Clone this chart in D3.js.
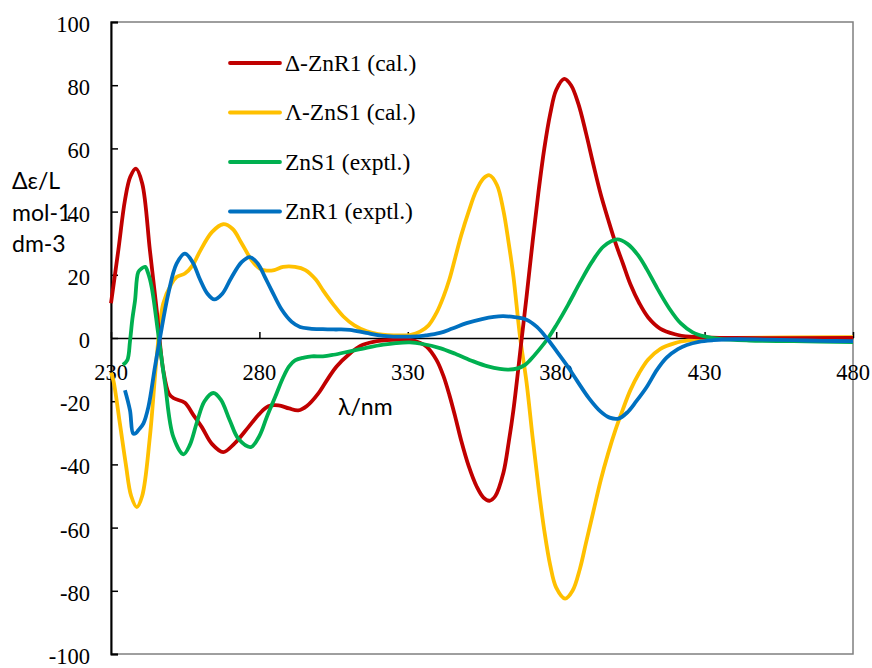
<!DOCTYPE html>
<html>
<head>
<meta charset="utf-8">
<script src="https://cdn.jsdelivr.net/npm/d3@7"></script>
<style>
    body { margin: 0; background: #fff; }
    .chart { width: 872px; height: 668px; }
</style>
</head>
<body>
<div class="chart" id="cd"></div>
<script>
// wavelength (nm) / delta epsilon pairs
var redNm = [230, 232.5, 234.7, 236.5, 238.4, 240.5, 243.1, 245.4, 247.6, 249.5, 251, 254.9, 257.5, 260.6, 264, 267.8, 271.5, 276.3, 280, 283, 286.4, 290, 293.1, 296, 299.8, 303, 306, 310.5, 314, 318.4, 325, 330.7, 334, 336.4, 339.7, 342, 344, 346, 348, 350.5, 353.2, 355.5, 357.5, 359.5, 362.2, 364, 365.6, 368.4, 370, 372, 374, 376, 378, 380, 382.7, 385, 387.5, 390, 392.5, 395, 397.5, 400, 402.5, 405, 408, 411, 415, 420, 425, 430, 440, 480];
var redVals = [11, 28, 43.6, 51, 53.6, 49, 27.8, 8.8, -10.2, -17.6, -19, -20.5, -24, -28.2, -33.5, -36.1, -33.5, -28.2, -24, -21.6, -21.3, -22.3, -22.9, -21.5, -17.6, -13, -9, -4.9, -2.5, -1.2, -0.6, -0.6, -1.5, -2.8, -7, -12, -18, -25, -32.5, -40.5, -47, -50.5, -51.5, -50, -42.7, -33, -22.7, 0, 13, 30, 46, 60, 71, 78.5, 82, 80, 74, 65, 55, 45.5, 37.5, 30, 23.5, 17, 11, 6.5, 3, 1.2, 0.4, 0.2, 0, 0];

var yellowNm = [230, 230.8, 233, 235, 236.8, 238.7, 240.5, 243.1, 245.4, 247.6, 250.4, 252.1, 254.9, 257.5, 260, 264, 267.8, 271, 274, 277.4, 280, 281.9, 285, 288, 292, 295.5, 299, 301.5, 305, 308.3, 312, 316.2, 320, 327.4, 331, 334.1, 337, 339.7, 342, 344, 346, 348, 350.5, 353, 355.5, 357.5, 360, 362.2, 364, 365.6, 367.8, 370, 372, 374, 376, 378, 380, 383, 385.5, 388, 390, 392.5, 395, 397.5, 400, 402.5, 405, 408, 411, 415, 420, 425, 430, 440, 480];
var yellowVals = [-11, -13.4, -27.1, -40, -50, -53.5, -50, -31.3, -6, 10.9, 17.2, 19.3, 20.4, 23, 27.5, 33.5, 36, 34.5, 30, 24.6, 22, 21.4, 21.5, 22.5, 22.5, 21.5, 18.5, 15, 10.5, 6.8, 4, 2.1, 1.2, 0.8, 1, 2, 4, 8, 13, 18.5, 25.5, 32.5, 40, 46.5, 50.5, 51.5, 48.5, 40.4, 30, 19.4, 0.5, -14, -31, -47, -61, -72, -79, -82.5, -80, -73, -65, -55, -45, -36.5, -29, -22.5, -16.5, -11, -6.8, -3.5, -1.6, -0.7, -0.3, 0, 0.3];

var greenNm = [234, 235.5, 236.4, 237.2, 238.1, 239.2, 240.3, 241.5, 242.5, 243.7, 245.9, 248.2, 251, 254.4, 256.5, 259, 261.5, 264.5, 267, 270, 273, 277.1, 280, 282.5, 285.3, 288, 290, 292, 295, 297.6, 301.4, 305, 310.5, 316, 321.7, 326, 330.7, 335, 340.8, 346, 352.1, 357, 361, 363.9, 367, 369.5, 371.2, 374, 377.3, 380, 384, 388, 392, 396, 400.6, 404, 407.5, 410.5, 414, 418, 422, 426, 430, 435, 445, 460, 480];
var greenVals = [-8.5, -7, -1, 6, 11.9, 20.9, 22, 22.5, 20.5, 16.1, 1.4, -14.4, -31.3, -36.8, -34, -26.5, -20, -17.4, -19.5, -26, -32, -34.5, -31, -25, -18.7, -12.5, -9, -7.1, -6.2, -5.8, -5.8, -5.3, -4.2, -3.1, -2.1, -1.6, -1.4, -1.9, -3.2, -5, -7.4, -9, -9.8, -10, -9.6, -8.5, -7, -4, 0, 4, 10.5, 17.5, 24, 29, 31.2, 29.8, 26.3, 21.8, 15.8, 9.5, 4.6, 1.8, 0.5, -0.3, -0.8, -1, -1.3];

var blueNm = [234.7, 236.4, 237.5, 238.5, 239.2, 240.9, 242.6, 244.8, 246.5, 249.3, 252.1, 254.9, 257.5, 260, 262.5, 264.8, 267.5, 270.5, 274, 276.8, 279.5, 282, 284.1, 287.5, 290.9, 293.7, 297, 301.4, 305, 310.5, 316, 321.7, 333, 336, 340.8, 345, 349.8, 355, 359, 362.2, 366, 370, 373.5, 376.8, 380, 383.5, 387, 391, 395, 398, 401, 404, 407, 410.5, 414, 417.2, 421, 424, 428, 433, 440, 450, 460, 470, 480];
var blueVals = [-16.5, -22.9, -30.3, -30, -29.2, -27.1, -21.8, -9.2, 0, 14, 23.5, 26.7, 24, 18.5, 14, 12.2, 14, 19, 24, 25.6, 23.5, 19, 15.1, 9, 5.1, 3.5, 3, 2.8, 2.7, 2.6, 1.6, 0.7, 0.5, 0.8, 1.6, 3, 4.7, 6, 6.7, 6.9, 6.6, 5.8, 3.5, 0, -4, -8.5, -13.5, -19, -23.3, -25.2, -25.5, -23.5, -20, -15.5, -10, -6.2, -3.5, -2.2, -1.2, -0.7, -0.4, -0.5, -0.7, -0.9, -1];

var seriesNames = ["Δ-ZnR1 (cal.)", "Λ-ZnS1 (cal.)", "ZnS1 (exptl.)", "ZnR1 (exptl.)"];
var seriesColors = ["#C00000", "#FFC000", "#00B050", "#0070C0"];
var xTicks = [230, 280, 330, 380, 430, 480];
var yTicks = [-100, -80, -60, -40, -20, 0, 20, 40, 60, 80, 100];
var yTitle = ["Δε/L", "mol-1", "dm-3"];
var xTitle = "λ/nm";

var cdChart = function () {
    return {
        init: function (initData) {
            var me = this;
            me._width = initData.width;
            me._height = initData.height;
            me._svg = d3.select("#" + initData.domEle).append("svg")
                .attr("width", me._width)
                .attr("height", me._height);
            me._x = d3.scaleLinear().domain([230, 480]).range([111, 853]);
            me._y = d3.scaleLinear().domain([-100, 100]).range([654, 22]);
        },
        setData: function (list) {
            var me = this, x = me._x, y = me._y, svg = me._svg;
            var serif = "'Liberation Serif', 'Times New Roman', 'DejaVu Serif', serif";
            var sans = "Lato, 'Open Sans', sans-serif";

            // plot frame
            svg.append("rect")
                .attr("x", x(230)).attr("y", y(100))
                .attr("width", x(480) - x(230)).attr("height", y(-100) - y(100))
                .style("fill", "none")
                .style("stroke", "#7f7f7f")
                .style("stroke-width", 1.5);

            var yAxis = d3.axisRight(y).tickValues(yTicks).tickSize(7).tickFormat("");
            var yg = svg.append("g")
                .attr("transform", "translate(" + x(230) + ",0)")
                .call(yAxis);
            yg.select(".domain").style("stroke", "#000").style("stroke-width", 2);
            yg.selectAll(".tick line").style("stroke", "#000").style("stroke-width", 1.5);

            svg.append("g").selectAll("text")
                .data(yTicks)
                .enter().append("text")
                .attr("x", 90)
                .attr("y", function (d) { return y(d) + 10; })
                .attr("text-anchor", "end")
                .style("font-family", serif)
                .style("font-size", "22.5px")
                .text(function (d) { return d; });

            var xAxis = d3.axisTop(x).tickValues(xTicks).tickSize(6).tickSizeOuter(0).tickFormat("");
            var xg = svg.append("g")
                .attr("transform", "translate(0," + y(0) + ")")
                .call(xAxis);
            xg.select(".domain").style("stroke", "#000").style("stroke-width", 1.5);
            xg.selectAll(".tick line").style("stroke", "#000").style("stroke-width", 1.5);

            svg.append("g").selectAll("text")
                .data(xTicks)
                .enter().append("text")
                .attr("x", function (d) { return x(d); })
                .attr("y", y(0) + 42)
                .attr("text-anchor", "middle")
                .style("font-family", serif)
                .style("font-size", "22.5px")
                .text(function (d) { return d; });

            var line = d3.line()
                .x(function (d) { return x(d[0]); })
                .y(function (d) { return y(d[1]); })
                .curve(d3.curveCatmullRom.alpha(0.5));

            // yellow under red, experiments on top
            var drawOrder = [1, 0, 2, 3];
            svg.append("g").selectAll("path")
                .data(drawOrder.map(function (i) { return list[i]; }))
                .enter().append("path")
                .attr("d", function (d) { return line(d3.zip(d.nm, d.vals)); })
                .style("fill", "none")
                .style("stroke", function (d) { return d.color; })
                .style("stroke-width", 3.8)
                .style("stroke-linejoin", "round");

            var legend = svg.append("g").selectAll("g")
                .data(list)
                .enter().append("g")
                .attr("transform", function (d, i) { return "translate(230," + (63 + i * 49.5) + ")"; });
            legend.append("line")
                .attr("x1", 0).attr("x2", 50)
                .style("stroke", function (d) { return d.color; })
                .style("stroke-width", 3.8)
                .style("stroke-linecap", "round");
            legend.append("text")
                .attr("x", 55).attr("y", 7.5)
                .style("font-family", serif)
                .style("font-size", "23.5px")
                .text(function (d) { return d.name; });

            svg.append("g").selectAll("text")
                .data(yTitle)
                .enter().append("text")
                .attr("x", 12)
                .attr("y", function (d, i) { return 189 + i * 31.5; })
                .style("font-family", sans)
                .style("font-size", "23px")
                .text(function (d) { return d; });

            svg.append("text")
                .attr("x", 338).attr("y", 415)
                .style("font-family", sans)
                .style("font-size", "23px")
                .text(xTitle);
        }
    };
};

var chart = new cdChart();
chart.init({ domEle: "cd", width: 872, height: 668 });
chart.setData([
    { name: seriesNames[0], color: seriesColors[0], nm: redNm, vals: redVals },
    { name: seriesNames[1], color: seriesColors[1], nm: yellowNm, vals: yellowVals },
    { name: seriesNames[2], color: seriesColors[2], nm: greenNm, vals: greenVals },
    { name: seriesNames[3], color: seriesColors[3], nm: blueNm, vals: blueVals }
]);
</script>
</body>
</html>
